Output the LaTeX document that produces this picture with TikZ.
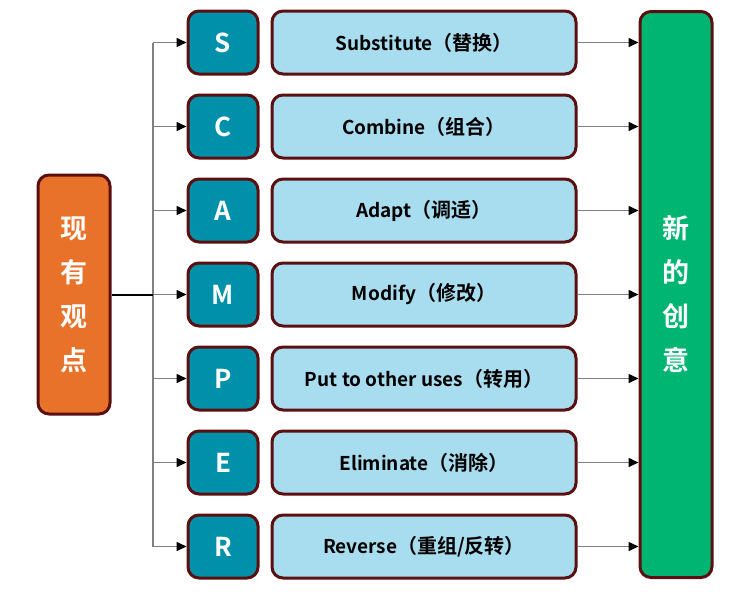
\documentclass[tikz,border=0pt]{standalone}
\usepackage{fontspec}
\setmainfont{Noto Sans CJK SC}[BoldFont={Noto Sans CJK SC Bold}]
\usetikzlibrary{arrows.meta}
\definecolor{bord}{HTML}{5A1010}
\definecolor{orangebox}{HTML}{E9722A}
\definecolor{tealbox}{HTML}{0090AA}
\definecolor{lightbox}{HTML}{A8DDEF}
\definecolor{greenbox}{HTML}{00B472}
\definecolor{linegray}{HTML}{808080}
\newcommand{\cjkpart}[1]{{\fontsize{20}{22}\selectfont（#1）}}
\tikzset{
  base/.style={draw=bord, line width=3pt, rounded corners=11pt, inner sep=0pt},
  sidebox/.style={base, minimum width=72pt, text=white, align=center,
    font=\fontsize{27}{44}\selectfont\bfseries},
  letterbox/.style={base, fill=tealbox, minimum width=70pt, minimum height=63pt,
    text=white, font=\fontsize{26}{28}\selectfont\bfseries},
  textbox/.style={base, fill=lightbox, minimum width=304pt, minimum height=63pt,
    text=black, font=\fontsize{19}{22}\selectfont\bfseries},
  arr/.style={draw=linegray, line width=1.6pt, -{Triangle[length=10pt,width=9pt,fill=black,color=black]}},
}
\begin{document}
\begin{tikzpicture}[x=1pt,y=-1pt]
\useasboundingbox (0,0) rectangle (732,592);
\node[sidebox, fill=orangebox, minimum height=239pt] (src) at (74,294.5) {现\\有\\观\\点};
\node[sidebox, fill=greenbox, minimum height=566pt] (dst) at (676,294.5) {新\\的\\创\\意};
\foreach \i/\y/\l/\e/\c in {1/42.5/S/Substitute/替换,
                        2/126.5/C/Combine/组合,
                        3/210.5/A/Adapt/调适,
                        4/294.5/M/Modify/修改,
                        5/378.5/P/Put to other uses/转用,
                        6/462.5/E/Eliminate/消除,
                        7/546.5/R/Reverse/{重组/反转}} {
  \node[letterbox] (L\i) at (223,\y) {\l};
  \node[textbox] (T\i) at (424,\y) {\e\cjkpart{\c}};
  \coordinate (B\i) at (153,\y);
  \draw[arr] (B\i) -- (L\i.west);
  \draw[arr] (T\i.east) -- (T\i.east -| dst.west);
}
\draw[linegray, line width=1.6pt] (B1) -- (B7);
\draw[black, line width=2pt] (src.east) -- (B4);
\end{tikzpicture}
\end{document}
